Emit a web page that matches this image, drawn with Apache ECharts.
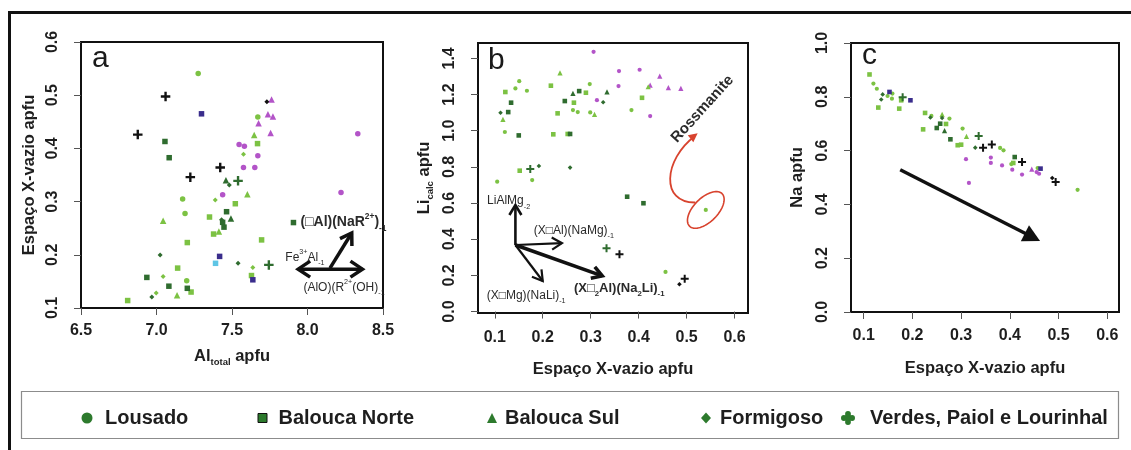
<!DOCTYPE html>
<html>
<head>
<meta charset="utf-8">
<script src="https://cdn.jsdelivr.net/npm/echarts@6/dist/echarts.min.js"></script>
<style>
html, body { margin: 0; padding: 0; background: #ffffff; }
#chart { width: 1131px; height: 450px; }
</style>
</head>
<body>
<div id="chart"></div>
<script>
// Point records are [x, y, type]; type: 1 light green, 2 dark green, 3 purple, 4 black, 5 dark blue, 6 cyan

// ---- panel a: Al total (apfu) vs X-site vacancy (apfu) ----
const aLousado = [
  [7.276, 0.541, 1], [7.671, 0.459, 1], [7.173, 0.305, 1], [7.189, 0.2775, 1], [7.200, 0.151, 1],
  [7.547, 0.4075, 3], [7.582, 0.404, 3], [7.671, 0.386, 3], [7.576, 0.364, 3], [7.651, 0.364, 3],
  [8.333, 0.4275, 3], [8.222, 0.317, 3], [7.438, 0.313, 3]
];
const aBaloucaNorte = [
  [7.669, 0.409, 1], [7.522, 0.296, 1], [7.351, 0.271, 1], [7.378, 0.239, 1], [7.696, 0.228, 1],
  [7.204, 0.223, 1], [7.140, 0.175, 1], [7.629, 0.161, 1], [7.229, 0.130, 1], [6.809, 0.114, 1],
  [7.056, 0.413, 2], [7.084, 0.3825, 2], [7.464, 0.281, 2], [7.438, 0.261, 2], [7.447, 0.252, 2],
  [6.936, 0.1575, 2], [7.082, 0.141, 2], [7.204, 0.137, 2], [7.907, 0.2606, 2],
  [7.298, 0.465, 5], [7.418, 0.197, 5], [7.638, 0.153, 5],
  [7.391, 0.184, 6]
];
const aBaloucaSul = [
  [7.762, 0.492, 3], [7.738, 0.464, 3], [7.771, 0.460, 3], [7.756, 0.429, 3], [7.676, 0.4475, 3],
  [7.647, 0.425, 1], [7.602, 0.314, 1], [7.044, 0.264, 1], [7.413, 0.244, 1], [7.136, 0.124, 1],
  [7.460, 0.340, 2], [7.493, 0.268, 2]
];
const aFormigoso = [
  [7.731, 0.4875, 4],
  [7.576, 0.389, 1], [7.389, 0.303, 1], [7.638, 0.176, 1], [6.998, 0.128, 1], [7.044, 0.159, 1],
  [7.482, 0.331, 2], [7.431, 0.266, 2], [7.024, 0.1994, 2], [7.540, 0.184, 2], [6.969, 0.1206, 2]
];
const aVerdes = [
  [7.060, 0.4975, 4], [6.876, 0.426, 4], [7.224, 0.346, 4], [7.422, 0.364, 4],
  [7.540, 0.339, 2], [7.744, 0.181, 2]
];

// ---- panel b: X-site vacancy vs calculated Li (apfu) ----
const bLousado = [
  [0.306, 1.436, 3], [0.359, 1.330, 3], [0.402, 1.337, 3], [0.358, 1.247, 3], [0.313, 1.169, 3], [0.424, 1.081, 3],
  [0.151, 1.274, 1], [0.143, 1.234, 1], [0.167, 1.221, 1], [0.298, 1.258, 1], [0.263, 1.114, 1],
  [0.273, 1.103, 1], [0.299, 1.101, 1], [0.385, 1.114, 1], [0.121, 0.993, 1], [0.178, 0.727, 1],
  [0.105, 0.718, 1], [0.540, 0.562, 1], [0.456, 0.219, 1]
];
const bBaloucaNorte = [
  [0.122, 1.214, 1], [0.217, 1.249, 1], [0.290, 1.210, 1], [0.407, 1.182, 1], [0.265, 1.155, 1],
  [0.231, 1.096, 1], [0.222, 0.980, 1], [0.252, 0.982, 1], [0.152, 0.779, 1],
  [0.276, 1.219, 2], [0.246, 1.164, 2], [0.134, 1.155, 2], [0.128, 1.103, 2], [0.150, 0.974, 2],
  [0.257, 0.982, 2], [0.376, 0.635, 2], [0.410, 0.599, 2]
];
const bBaloucaSul = [
  [0.444, 1.302, 3], [0.424, 1.252, 3], [0.462, 1.238, 3], [0.488, 1.234, 3],
  [0.236, 1.320, 1], [0.420, 1.243, 1], [0.117, 1.063, 1], [0.308, 1.090, 1],
  [0.263, 1.206, 2], [0.334, 1.215, 2]
];
const bFormigoso = [
  [0.326, 1.157, 2], [0.112, 1.099, 2], [0.192, 0.805, 2], [0.257, 0.796, 2],
  [0.485, 0.151, 4]
];
const bVerdes = [
  [0.174, 0.788, 2], [0.333, 0.350, 2],
  [0.360, 0.317, 4], [0.496, 0.182, 4]
];

// ---- panel c: X-site vacancy vs Na (apfu) ----
const cLousado = [
  [0.120, 0.849, 1], [0.127, 0.830, 1], [0.149, 0.803, 1], [0.159, 0.812, 1], [0.158, 0.793, 1],
  [0.239, 0.729, 1], [0.276, 0.719, 1], [0.303, 0.682, 1], [0.380, 0.610, 1], [0.387, 0.601, 1],
  [0.403, 0.550, 1], [0.457, 0.535, 1], [0.539, 0.454, 1],
  [0.310, 0.568, 3], [0.361, 0.574, 3], [0.361, 0.554, 3], [0.384, 0.545, 3], [0.405, 0.529, 3],
  [0.425, 0.511, 3], [0.455, 0.520, 3], [0.460, 0.514, 3], [0.316, 0.480, 3]
];
const cBaloucaNorte = [
  [0.112, 0.883, 1], [0.177, 0.787, 1], [0.130, 0.760, 1], [0.173, 0.756, 1], [0.226, 0.740, 1],
  [0.222, 0.679, 1], [0.269, 0.699, 1], [0.293, 0.620, 1], [0.300, 0.622, 1], [0.407, 0.554, 1],
  [0.257, 0.700, 2], [0.250, 0.684, 2], [0.278, 0.642, 2], [0.410, 0.576, 2],
  [0.153, 0.818, 5], [0.196, 0.787, 5], [0.463, 0.533, 5]
];
const cBaloucaSul = [
  [0.261, 0.735, 1], [0.311, 0.653, 1],
  [0.266, 0.674, 2],
  [0.445, 0.531, 3]
];
const cFormigoso = [
  [0.139, 0.809, 2], [0.136, 0.790, 2], [0.237, 0.723, 2], [0.261, 0.721, 2], [0.329, 0.611, 2],
  [0.487, 0.498, 4]
];
const cVerdes = [
  [0.180, 0.798, 2], [0.336, 0.654, 2],
  [0.345, 0.611, 4], [0.363, 0.623, 4], [0.425, 0.558, 4], [0.494, 0.483, 4]
];

// ---- tick values ----
const aXTicks = [6.5, 7.0, 7.5, 8.0, 8.5];
const aYTicks = [0.1, 0.2, 0.3, 0.4, 0.5, 0.6];
const bXTicks = [0.1, 0.2, 0.3, 0.4, 0.5, 0.6];
const bYTicks = [0.0, 0.2, 0.4, 0.6, 0.8, 1.0, 1.2, 1.4];
const cXTicks = [0.1, 0.2, 0.3, 0.4, 0.5, 0.6];
const cYTicks = [0.0, 0.2, 0.4, 0.6, 0.8, 1.0];

const groupNames = ['Lousado', 'Balouca Norte', 'Balouca Sul', 'Formigoso', 'Verdes, Paiol e Lourinhal'];

// ---- styling ----
const FONT = '"Liberation Sans", Arial, Helvetica, sans-serif';
const TEXT = '#1e1e1e';
const TYPE_COLORS = { 1: '#7cc243', 2: '#2f6c2f', 3: '#b354c8', 4: '#111111', 5: '#3a2d8c', 6: '#5ec5e5' };
const PLUS = 'path://M-1,-4H1V-1H4V1H1V4H-1V1H-4V-1H-1Z';
const CLUB = 'path://M-1.7,-2.4a1.7,1.7 0 1,0 3.4,0a1.7,1.7 0 1,0 -3.4,0Z' +
  'M0.7,0a1.7,1.7 0 1,0 3.4,0a1.7,1.7 0 1,0 -3.4,0Z' +
  'M-1.7,2.4a1.7,1.7 0 1,0 3.4,0a1.7,1.7 0 1,0 -3.4,0Z' +
  'M-4.1,0a1.7,1.7 0 1,0 3.4,0a1.7,1.7 0 1,0 -3.4,0Z' +
  'M-1.4,-1.4V1.4H1.4V-1.4Z';
const SYMBOLS = ['circle', 'rect', 'triangle', 'diamond', PLUS];
const LEGEND_GREEN = '#2d7a2d';

const grids = [
  { left: 81, top: 42, width: 302, height: 266 },
  { left: 478, top: 43, width: 270, height: 270 },
  { left: 851, top: 43, width: 268, height: 269 }
];

const panels = [
  { groups: [aLousado, aBaloucaNorte, aBaloucaSul, aFormigoso, aVerdes], sizes: [5.5, 5.5, 6.5, 5, 9.5],
    x: { min: 6.5, max: 8.5, ticks: aXTicks }, y: { min: 0.1, max: 0.6, ticks: aYTicks }, xMargin: 15 },
  { groups: [bLousado, bBaloucaNorte, bBaloucaSul, bFormigoso, bVerdes], sizes: [4.2, 4.6, 5.2, 4.6, 8],
    x: { min: 0.065, max: 0.628, ticks: bXTicks }, y: { min: -0.008, max: 1.485, ticks: bYTicks }, xMargin: 17 },
  { groups: [cLousado, cBaloucaNorte, cBaloucaSul, cFormigoso, cVerdes], sizes: [4.2, 4.6, 5.2, 4.6, 8],
    x: { min: 0.074, max: 0.624, ticks: cXTicks }, y: { min: 0, max: 1, ticks: cYTicks }, xMargin: 16 }
];

const titleRich = {
  b: { fontSize: 16.5, fontWeight: 'bold', fontFamily: FONT, color: TEXT, lineHeight: 22 },
  s: { fontSize: 9.5, fontWeight: 'bold', fontFamily: FONT, color: TEXT, lineHeight: 22, verticalAlign: 'bottom' }
};
const xNames = ['{b|Al}{s|total}{b| apfu}', '{b|Espaço X-vazio apfu}', '{b|Espaço X-vazio apfu}'];
const yNames = ['{b|Espaço X-vazio apfu}', '{b|Li}{s|calc}{b| apfu}', '{b|Na apfu}'];
const xNameGaps = [37, 45, 45];
const yNameGaps = [41, 43, 43];

function axisCommon(ticks, rotate, margin) {
  return {
    type: 'value',
    axisLine: { show: false },
    splitLine: { show: false },
    axisTick: { show: true, inside: false, length: 7, customValues: ticks, lineStyle: { color: '#555', width: 1 } },
    axisLabel: {
      customValues: ticks, formatter: v => v.toFixed(1), rotate, margin,
      fontSize: 16, fontWeight: 'bold', fontFamily: FONT, color: TEXT
    }
  };
}

const xAxes = panels.map((p, i) => Object.assign(axisCommon(p.x.ticks, 0, p.xMargin), {
  gridIndex: i, min: p.x.min, max: p.x.max,
  name: xNames[i], nameLocation: 'middle', nameGap: xNameGaps[i], nameTextStyle: { rich: titleRich }
}));
const yAxes = panels.map((p, i) => Object.assign(axisCommon(p.y.ticks, 90, 20), {
  gridIndex: i, min: p.y.min, max: p.y.max,
  name: yNames[i], nameLocation: 'middle', nameGap: yNameGaps[i], nameTextStyle: { rich: titleRich }
}));

const series = [];
panels.forEach((p, gi) => {
  p.groups.forEach((arr, k) => {
    series.push({
      type: 'scatter', name: groupNames[k], xAxisIndex: gi, yAxisIndex: gi,
      data: arr, symbol: SYMBOLS[k], symbolSize: p.sizes[k],
      itemStyle: { color: prm => TYPE_COLORS[prm.data[2]], opacity: 1 },
      emphasis: { disabled: true }, silent: true
    });
  });
});

// legend, one component per entry so each sits at its own place in the box
const legendSpec = [
  { icon: 'circle', left: 81.5, w: 11, h: 11, pad: 7.5 },
  { icon: 'rect', left: 257.5, w: 9, h: 9, pad: 6.5, border: true },
  { icon: 'triangle', left: 487, w: 10, h: 10, pad: 3 },
  { icon: 'diamond', left: 701, w: 10, h: 11, pad: 4 },
  { icon: CLUB, left: 841, w: 14, h: 14, pad: 10 }
];
const legends = legendSpec.map((s, i) => ({
  show: true, orient: 'horizontal', left: s.left, top: 408, padding: 0, z: 10,
  itemWidth: s.w, itemHeight: s.h, selectedMode: false,
  itemStyle: { color: LEGEND_GREEN, borderColor: s.border ? '#111' : LEGEND_GREEN, borderWidth: s.border ? 1 : 0 },
  textStyle: { fontSize: 20, fontWeight: 'bold', fontFamily: FONT, color: TEXT, padding: [0, 0, 0, s.pad] },
  data: [{ name: groupNames[i], icon: s.icon }]
}));

const chart = echarts.init(document.getElementById('chart'), null, { renderer: 'canvas' });
chart.setOption({
  animation: false,
  backgroundColor: '#ffffff',
  grid: grids.map(g => Object.assign({ show: true, borderColor: '#111', borderWidth: 2, backgroundColor: 'transparent' }, g)),
  xAxis: xAxes,
  yAxis: yAxes,
  legend: legends,
  series
});

// ---- annotations, placed in data space and converted through each grid ----
const px = (gi, pt) => chart.convertToPixel({ xAxisIndex: gi, yAxisIndex: gi }, pt);

function arrow(p0, p1, o) {
  const dx = p1[0] - p0[0], dy = p1[1] - p0[1];
  const L = Math.hypot(dx, dy), ux = dx / L, uy = dy / L;
  const els = [];
  const heads = o.both ? [[p1, ux, uy], [p0, -ux, -uy]] : [[p1, ux, uy]];
  let s0 = p0, s1 = p1;
  if (o.filled) {
    s1 = [p1[0] - ux * o.head * 0.8, p1[1] - uy * o.head * 0.8];
  }
  els.push({ type: 'line', z: 20, shape: { x1: s0[0], y1: s0[1], x2: s1[0], y2: s1[1] },
    style: { stroke: o.color, lineWidth: o.width, lineCap: 'butt' } });
  heads.forEach(([tip, vx, vy]) => {
    const bx = tip[0] - vx * o.head, by = tip[1] - vy * o.head;
    const w1 = [bx - vy * o.half, by + vx * o.half];
    const w2 = [bx + vy * o.half, by - vx * o.half];
    if (o.filled) {
      els.push({ type: 'polygon', z: 21, shape: { points: [tip, w1, w2] }, style: { fill: o.color } });
    } else {
      els.push({ type: 'polyline', z: 21, shape: { points: [w1, tip, w2] },
        style: { stroke: o.color, lineWidth: o.width, lineJoin: 'miter', fill: null } });
    }
  });
  return els;
}

function label(gi, pt, text, rich, extra) {
  const p = px(gi, pt);
  return Object.assign({ type: 'text', z: 22, x: p[0], y: p[1],
    style: { text, rich, align: 'left', verticalAlign: 'middle' } }, extra || {});
}

const noteRich = (size, weight) => ({
  n: { fontSize: size, fontWeight: weight, fontFamily: FONT, fill: '#2a2a2a', lineHeight: size + 6 },
  up: { fontSize: size * 0.6, fontWeight: weight, fontFamily: FONT, fill: '#2a2a2a', lineHeight: size + 6, verticalAlign: 'top' },
  dn: { fontSize: size * 0.6, fontWeight: weight, fontFamily: FONT, fill: '#2a2a2a', lineHeight: size + 6, verticalAlign: 'bottom' }
});

const gfx = [];

// outer frame and legend box
gfx.push({ type: 'polyline', z: 30, shape: { points: [[9.5, 450], [9.5, 12.5], [1131, 12.5]] },
  style: { stroke: '#111', lineWidth: 3, fill: null } });
gfx.push({ type: 'rect', z: 1, shape: { x: 21.5, y: 391.5, width: 1097, height: 47 },
  style: { fill: '#ffffff', stroke: '#8c8c8c', lineWidth: 1.2 } });

// panel letters
[['a', 92, 59], ['b', 488, 61], ['c', 862, 56]].forEach(([t, x, y]) => {
  gfx.push({ type: 'text', z: 22, x, y, style: { text: t, fontSize: 30, fontFamily: FONT, fill: '#1a1a1a', align: 'left', verticalAlign: 'middle' } });
});

// panel a vectors
const aVec = { base: [8.149, 0.175], up: [8.293, 0.241], left: [7.938, 0.173], right: [8.364, 0.173] };
gfx.push(...arrow(px(0, aVec.left), px(0, aVec.right), { color: '#111', width: 3.5, head: 12, half: 8, both: true }));
gfx.push(...arrow(px(0, aVec.base), px(0, aVec.up), { color: '#111', width: 3.5, head: 11, half: 7 }));
gfx.push(label(0, [7.953, 0.2606], '{n|(□Al)(NaR}{up|2+}{n|)}{dn|-1}', noteRich(14, 'bold')));
gfx.push(label(0, [7.853, 0.195], '{n|Fe}{up|3+}{n|Al}{dn|-1}', noteRich(12, 'normal')));
gfx.push(label(0, [7.973, 0.139], '{n|(AlO)(R}{up|2+}{n|(OH)}{dn|-1}', noteRich(12, 'normal')));

// panel b vectors
const bOrigin = [0.143, 0.368];
const bTips = [
  { tip: [0.143, 0.589], width: 2.6 },
  { tip: [0.240, 0.378], width: 2.2 },
  { tip: [0.200, 0.169], width: 2.2 },
  { tip: [0.324, 0.197], width: 3.6 }
];
bTips.forEach(t => gfx.push(...arrow(px(1, bOrigin), px(1, t.tip), { color: '#111', width: t.width, head: 10, half: 6 })));
gfx.push(label(1, [0.084, 0.611], '{n|LiAlMg}{dn|-2}', noteRich(12, 'normal')));
gfx.push(label(1, [0.181, 0.446], '{n|(X□Al)(NaMg)}{dn|-1}', noteRich(12, 'normal')));
gfx.push(label(1, [0.083, 0.087], '{n|(X□Mg)(NaLi)}{dn|-1}', noteRich(12, 'normal')));
gfx.push(label(1, [0.265, 0.129], '{n|(X□}{dn|2}{n|Al)(Na}{dn|2}{n|Li)}{dn|-1}', noteRich(13, 'bold')));

// Rossmanite pointer: ellipse round the point, curved arrow and name
const RED = '#d8432e';
const ellC = px(1, [0.540, 0.562]);
const ellPts = [];
for (let i = 0; i < 72; i++) {
  const t = i / 72 * Math.PI * 2, th = -Math.PI / 4, a = 23, b = 12;
  ellPts.push([ellC[0] + a * Math.cos(t) * Math.cos(th) - b * Math.sin(t) * Math.sin(th),
               ellC[1] + a * Math.cos(t) * Math.sin(th) + b * Math.sin(t) * Math.cos(th)]);
}
gfx.push({ type: 'polygon', z: 20, shape: { points: ellPts }, style: { fill: null, stroke: RED, lineWidth: 1.6 } });
const cv = [[0.518, 0.603], [0.445, 0.600], [0.452, 0.839], [0.523, 0.986]].map(p => px(1, p));
gfx.push({ type: 'bezierCurve', z: 20,
  shape: { x1: cv[0][0], y1: cv[0][1], cpx1: cv[1][0], cpy1: cv[1][1], cpx2: cv[2][0], cpy2: cv[2][1], x2: cv[3][0] - 3, y2: cv[3][1] + 3 },
  style: { stroke: RED, lineWidth: 1.8, fill: null } });
{
  const tip = cv[3], dx = tip[0] - cv[2][0], dy = tip[1] - cv[2][1], L = Math.hypot(dx, dy);
  const ux = dx / L, uy = dy / L, h = 9, hw = 4.5;
  const bx = tip[0] - ux * h, by = tip[1] - uy * h;
  gfx.push({ type: 'polygon', z: 21, shape: { points: [tip, [bx - uy * hw, by + ux * hw], [bx + uy * hw, by - ux * hw]] }, style: { fill: RED } });
}
{
  const rp = px(1, [0.533, 1.12]);
  gfx.push({ type: 'text', z: 22, x: rp[0], y: rp[1], rotation: 48 * Math.PI / 180,
    style: { text: 'Rossmanite', fontSize: 15, fontWeight: 'bold', fontFamily: FONT, fill: '#2a2a2a', align: 'center', verticalAlign: 'middle' } });
}

// panel c trend arrow
gfx.push(...arrow(px(2, [0.175, 0.529]), px(2, [0.462, 0.264]), { color: '#111', width: 3.5, head: 17, half: 9, filled: true }));

chart.setOption({ graphic: { elements: gfx } });
</script>
</body>
</html>
